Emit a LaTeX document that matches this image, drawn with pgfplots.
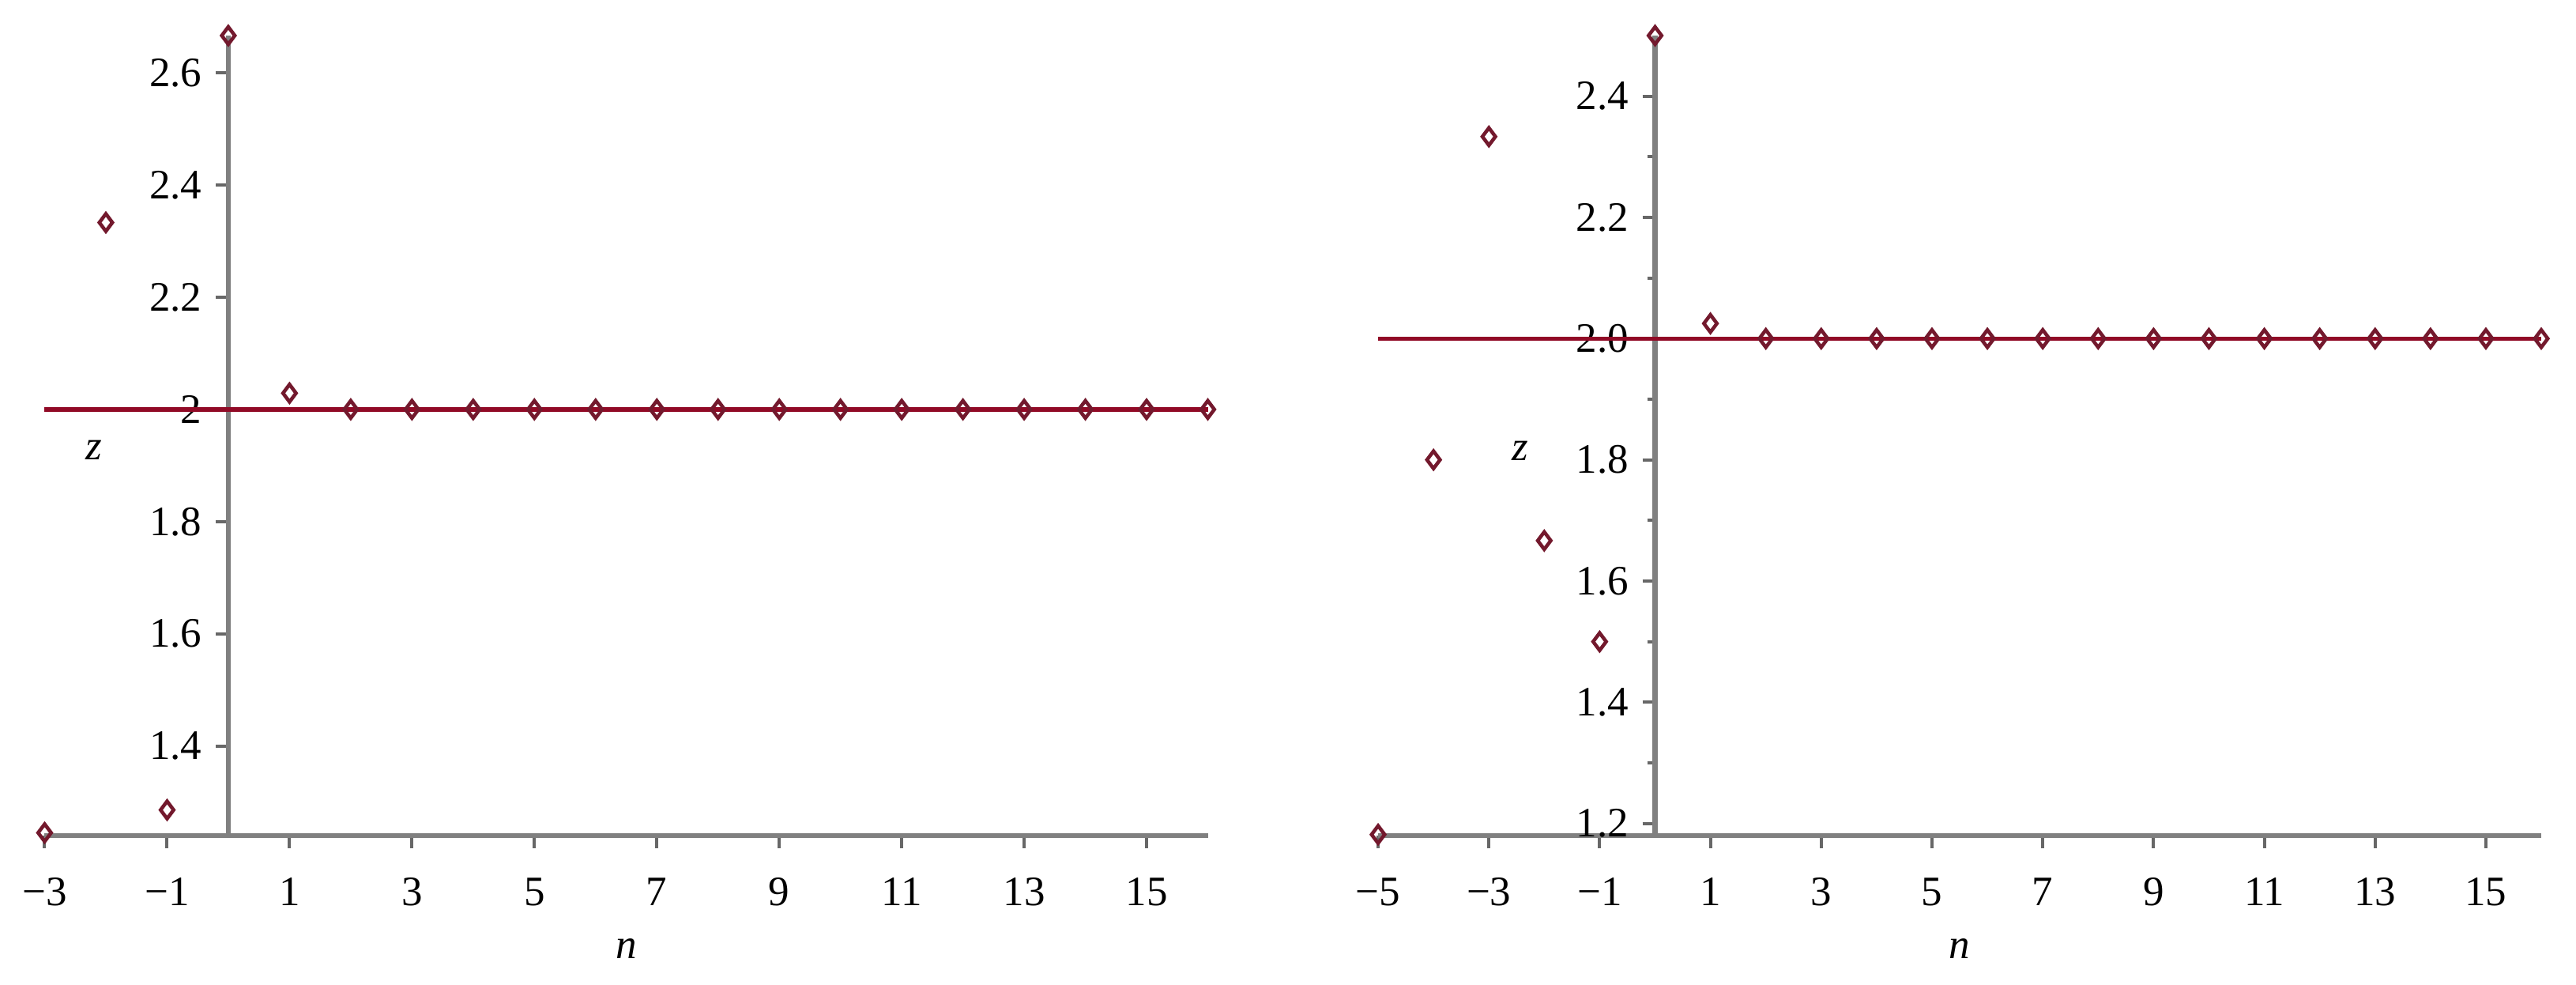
\documentclass[border=0pt]{standalone}
\usepackage{fontspec}
\setmainfont{Liberation Serif}
\usepackage{pgfplots}
\pgfplotsset{compat=1.18}
\definecolor{limred}{RGB}{145,10,38}
\definecolor{ptred}{RGB}{115,25,45}
\definecolor{axgray}{RGB}{128,128,128}

\pgfplotsset{maple/.style={
  scale only axis, width=294.4pt, height=202.4pt,
  anchor=south west, clip=false,
  axis x line=bottom, axis y line=middle,
  axis line style={-, axgray, line width=1.3pt},
  tick style={axgray!80!black, line width=0.8pt},
  tick align=outside, major tick length=3.2pt, minor tick length=2pt,
  x tick label style={font=\fontsize{10.6}{12}\selectfont, yshift=-4pt},
  y tick label style={font=\fontsize{10.6}{12}\selectfont},
  xlabel={\textit{n}},
  every axis x label/.style={at={(rel axis cs:0.5,0)}, yshift=-28.6pt, anchor=center, font=\fontsize{10.6}{12}\selectfont},
  every axis y label/.style={anchor=center, font=\fontsize{10.6}{12}\selectfont},
  ylabel={\textit{z}},
}}

\begin{document}
\begin{tikzpicture}
\path (0,0) rectangle (652pt,249pt);

% left panel
\begin{axis}[maple, at={(11.3pt,37.6pt)},
  xmin=-3, xmax=16, ymin=1.24, ymax=2.6667,
  xtick={-3,-1,1,3,5,7,9,11,13,15},
  xticklabels={−3,−1,1,3,5,7,9,11,13,15},
  ytick={1.4,1.6,1.8,2,2.2,2.4,2.6},
  yticklabels={1.4,1.6,1.8,2,2.2,2.4,2.6},
  ylabel style={at={(rel axis cs:0.042,0.482)}},
]
\addplot[limred, line width=1.1pt] coordinates {(-3,2) (16,2)};
\addplot[only marks, mark=diamond, mark size=2.2pt, ptred, mark options={line width=0.9pt}] coordinates {
(-3,1.245) (-2,2.3333) (-1,1.2857) (0,2.6667) (1,2.029)
(2,2) (3,2) (4,2) (5,2) (6,2) (7,2) (8,2) (9,2) (10,2)
(11,2) (12,2) (13,2) (14,2) (15,2) (16,2)};
\end{axis}

% right panel
\begin{axis}[maple, at={(348.8pt,37.6pt)},
  xmin=-5, xmax=16, ymin=1.18, ymax=2.5,
  xtick={-5,-3,-1,1,3,5,7,9,11,13,15},
  xticklabels={−5,−3,−1,1,3,5,7,9,11,13,15},
  ytick={1.2,1.4,1.6,1.8,2.0,2.2,2.4},
  yticklabels={1.2,1.4,1.6,1.8,2.0,2.2,2.4},
  minor ytick={1.3,1.5,1.7,1.9,2.1,2.3},
  ylabel style={at={(rel axis cs:0.122,0.481)}},
]
\addplot[limred, line width=1.1pt] coordinates {(-5,2) (16,2)};
\addplot[only marks, mark=diamond, mark size=2.2pt, ptred, mark options={line width=0.9pt}] coordinates {
(-5,1.1818) (-4,1.8) (-3,2.3333) (-2,1.6667) (-1,1.5) (0,2.5) (1,2.025)
(2,2) (3,2) (4,2) (5,2) (6,2) (7,2) (8,2) (9,2) (10,2)
(11,2) (12,2) (13,2) (14,2) (15,2) (16,2)};
\end{axis}
\end{tikzpicture}
\end{document}
